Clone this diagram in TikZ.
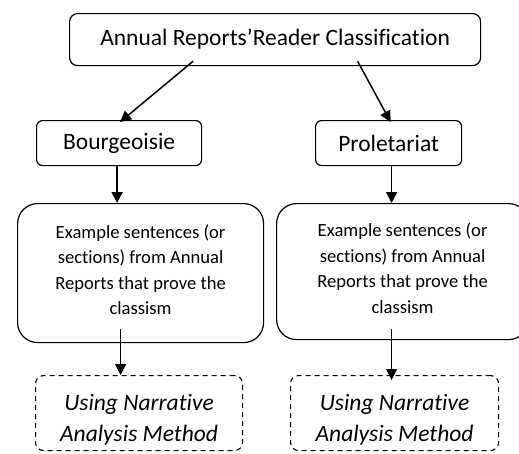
\documentclass[tikz,border=0pt]{standalone}
\usepackage{fontspec}
\setmainfont{Carlito}[Ligatures=NoCommon]
\usetikzlibrary{arrows.meta,calc}
\begin{document}
\begin{tikzpicture}[x=1pt,y=-1pt,
  box/.style={draw,line width=1.2pt,anchor=north west,inner sep=0pt,align=center},
  exbox/.style={box,rounded corners=20pt,font=\fontsize{18.6}{25.5}\selectfont},
  arr/.style={line width=1.5pt,-{Triangle[length=11pt,width=11pt]}},
  dbox/.style={draw,line width=1.1pt,dash pattern=on 5pt off 4pt,rounded corners=8pt,anchor=north west,inner sep=0pt,align=center,font=\fontsize{23.5}{31}\selectfont\itshape}]
\useasboundingbox (0,0) rectangle (519,453);
\node[box,rounded corners=8pt,minimum width=411pt,minimum height=52pt,font=\fontsize{23.5}{28}\selectfont] (top) at (69,13) {Annual Reports’Reader Classification};
\node[box,rounded corners=6pt,minimum width=165pt,minimum height=45pt,font=\fontsize{23.5}{28}\selectfont] (bour) at (36,120) {Bourgeoisie};
\node[box,rounded corners=6pt,minimum width=146pt,minimum height=45pt,font=\fontsize{23.5}{28}\selectfont] (prol) at (315,120) {Proletariat};
\node[exbox,minimum width=246pt,minimum height=139pt] (ex1) at (17,203) {Example sentences (or\\sections) from Annual\\Reports that prove the\\classism\rule[-7pt]{0pt}{7pt}};
\node[exbox,minimum width=252pt,minimum height=136pt] (ex2) at (276,203) {Example sentences (or\\sections) from Annual\\Reports that prove the\\classism\rule[-7pt]{0pt}{7pt}};
\node[dbox,minimum width=207pt,minimum height=75pt] (m1) at (35,375) {\rule{0pt}{29pt}Using Narrative\\Analysis Method};
\node[dbox,minimum width=208pt,minimum height=75pt] (m2) at (290,375) {\rule{0pt}{29pt}Using Narrative\\Analysis Method};
\draw[arr] ([xshift=-82pt,yshift=5pt]top.south) -- ([xshift=1pt,yshift=-2pt]bour.north);
\draw[arr] ([xshift=82.5pt,yshift=5pt]top.south) -- ([xshift=2pt,yshift=-2pt]prol.north);
\draw[arr] ([xshift=-2pt]bour.south) -- ([xshift=-2pt]bour.south |- ex1.north);
\draw[arr] ([xshift=3pt]prol.south) -- ([xshift=3pt]prol.south |- ex2.north);
\draw[arr] ([xshift=-20pt,yshift=14pt]ex1.south) -- ([xshift=-20pt]ex1.south |- m1.north);
\draw[arr] ([xshift=-11pt,yshift=11pt]ex2.south) -- ([xshift=-11pt,yshift=-5pt]ex2.south |- m2.north);
\end{tikzpicture}
\end{document}
